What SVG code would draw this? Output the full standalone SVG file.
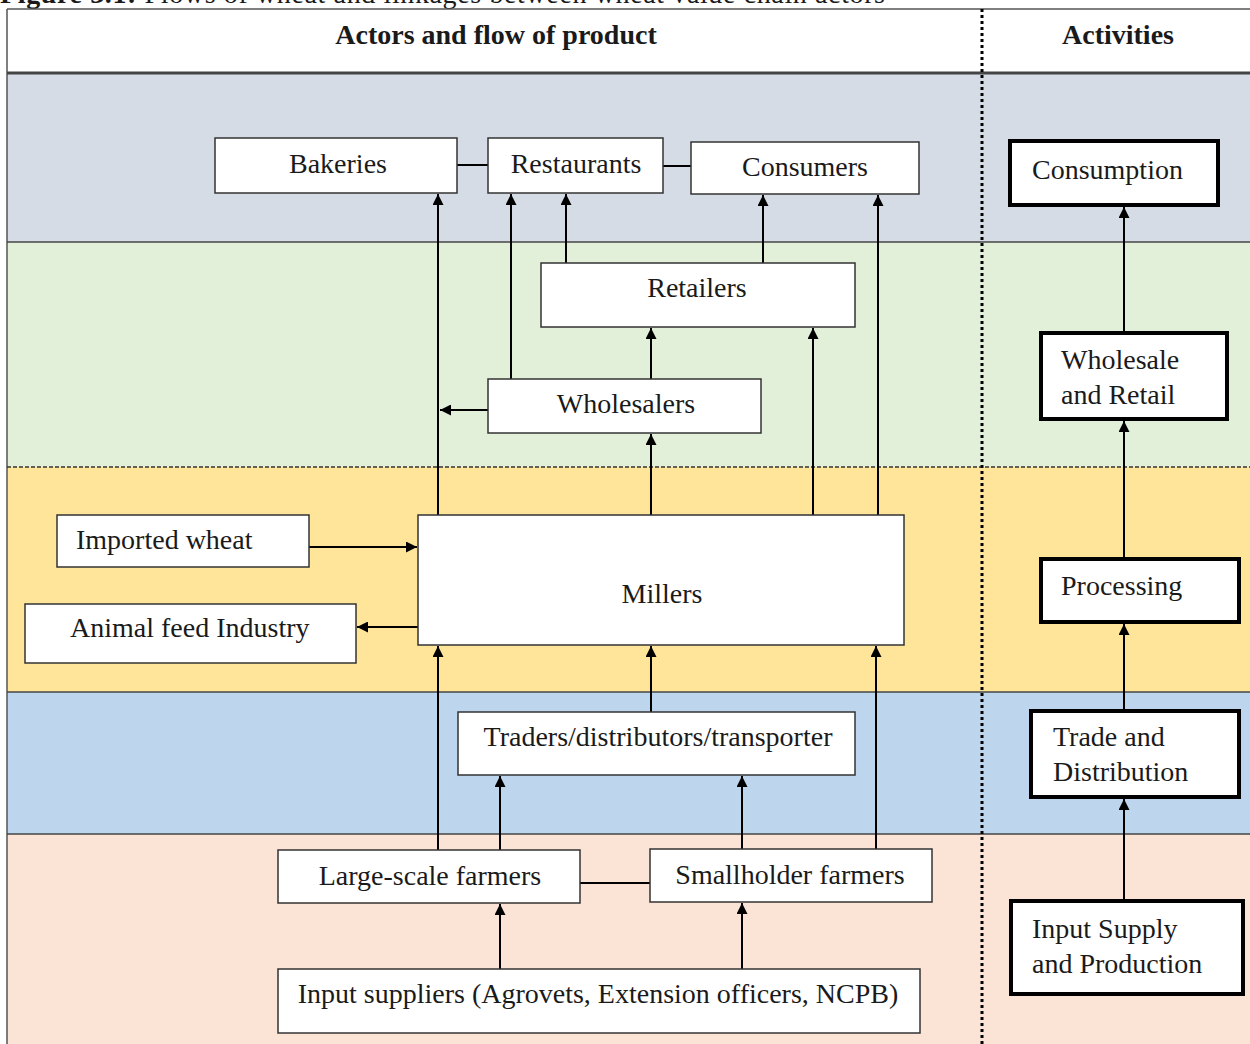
<svg xmlns="http://www.w3.org/2000/svg" width="1250" height="1044" viewBox="0 0 1250 1044">
<defs>
<marker id="ah" viewBox="0 0 10 10" refX="10" refY="5" markerWidth="12" markerHeight="11" markerUnits="userSpaceOnUse" orient="auto">
<path d="M0,0 L10,5 L0,10 z" fill="#000"/>
</marker>
<style>
.t{font-family:"Liberation Serif","Times New Roman",serif;font-size:28px;fill:#1a1a1a}
.hd{font-family:"Liberation Serif","Times New Roman",serif;font-size:28px;font-weight:bold;fill:#1a1a1a}
.box{fill:#fff;stroke:#333;stroke-width:1.5}
.abox{fill:#fff;stroke:#000;stroke-width:4}
.c{fill:none;stroke:#000;stroke-width:2}
.a{fill:none;stroke:#000;stroke-width:2;marker-end:url(#ah)}
.band{stroke:none}
</style>
</defs>
<rect width="1250" height="1044" fill="#fff"/>
<text x="0" y="3" class="t" font-size="26" textLength="885"><tspan font-weight="bold">Figure 3.1:</tspan> Flows of wheat and linkages between wheat value chain actors</text>
<g id="bands">
<rect class="band" x="7" y="73" width="1243" height="169" fill="#d6dce5"/>
<rect class="band" x="7" y="242" width="1243" height="225" fill="#e2efd9"/>
<rect class="band" x="7" y="467" width="1243" height="225" fill="#ffe59a"/>
<rect class="band" x="7" y="692" width="1243" height="142" fill="#bdd6ee"/>
<rect class="band" x="7" y="834" width="1243" height="210" fill="#fbe4d5"/>
<rect x="7" y="9" width="1243" height="64" fill="#fff"/>
<line x1="7" y1="9" x2="1250" y2="9" stroke="#555" stroke-width="1.5"/>
<line x1="7" y1="9" x2="7" y2="1044" stroke="#555" stroke-width="1.5"/>
<line x1="7" y1="73" x2="1250" y2="73" stroke="#444" stroke-width="3"/>
<line x1="7" y1="242" x2="1250" y2="242" stroke="#444" stroke-width="1.5"/>
<line x1="7" y1="467" x2="1250" y2="467" stroke="#333" stroke-width="1.5" stroke-dasharray="4,2"/>
<line x1="7" y1="692" x2="1250" y2="692" stroke="#444" stroke-width="1.5"/>
<line x1="7" y1="834" x2="1250" y2="834" stroke="#444" stroke-width="1.5"/>
<line x1="982" y1="9" x2="982" y2="1044" stroke="#000" stroke-width="3" stroke-dasharray="3,3"/>
<text x="496" y="44" class="hd" text-anchor="middle">Actors and flow of product</text>
<text x="1118" y="44" class="hd" text-anchor="middle">Activities</text>
</g>
<g id="connectors">
<line class="c" x1="457" y1="165" x2="488" y2="165"/>
<line class="c" x1="663" y1="166" x2="691" y2="166"/>
<line class="c" x1="580" y1="883" x2="650" y2="883"/>
<line class="a" x1="438" y1="850" x2="438" y2="646"/>
<line class="a" x1="438" y1="515" x2="438" y2="194"/>
<line class="a" x1="488" y1="410" x2="440" y2="410"/>
<line class="a" x1="500" y1="850" x2="500" y2="776"/>
<line class="a" x1="742" y1="849" x2="742" y2="776"/>
<line class="a" x1="876" y1="849" x2="876" y2="646"/>
<line class="a" x1="651" y1="712" x2="651" y2="646"/>
<line class="a" x1="651" y1="515" x2="651" y2="434"/>
<line class="a" x1="651" y1="379" x2="651" y2="328"/>
<line class="a" x1="813" y1="515" x2="813" y2="328"/>
<line class="a" x1="878" y1="515" x2="878" y2="195"/>
<line class="a" x1="511" y1="379" x2="511" y2="194"/>
<line class="a" x1="566" y1="263" x2="566" y2="194"/>
<line class="a" x1="763" y1="263" x2="763" y2="195"/>
<line class="a" x1="309" y1="547" x2="417" y2="547"/>
<line class="a" x1="418" y1="627" x2="357" y2="627"/>
<line class="a" x1="500" y1="969" x2="500" y2="904"/>
<line class="a" x1="742" y1="969" x2="742" y2="903"/>
<line class="a" x1="1124" y1="901" x2="1124" y2="799"/>
<line class="a" x1="1124" y1="711" x2="1124" y2="624"/>
<line class="a" x1="1124" y1="559" x2="1124" y2="421"/>
<line class="a" x1="1124" y1="332" x2="1124" y2="207"/>
</g>
<g id="bakeries"><rect class="box" x="215" y="138" width="242" height="55"/><text class="t" x="338" y="173" text-anchor="middle">Bakeries</text></g>
<g id="restaurants"><rect class="box" x="488" y="138" width="175" height="55"/><text class="t" x="576" y="173" text-anchor="middle">Restaurants</text></g>
<g id="consumers"><rect class="box" x="691" y="142" width="228" height="52"/><text class="t" x="805" y="176" text-anchor="middle">Consumers</text></g>
<g id="retailers"><rect class="box" x="541" y="263" width="314" height="64"/><text class="t" x="697" y="297" text-anchor="middle">Retailers</text></g>
<g id="wholesalers"><rect class="box" x="488" y="379" width="273" height="54"/><text class="t" x="626" y="413" text-anchor="middle">Wholesalers</text></g>
<g id="millers"><rect class="box" x="418" y="515" width="486" height="130"/><text class="t" x="662" y="603" text-anchor="middle">Millers</text></g>
<g id="imported-wheat"><rect class="box" x="57" y="515" width="252" height="52"/><text class="t" x="76" y="549">Imported wheat</text></g>
<g id="animal-feed"><rect class="box" x="25" y="604" width="331" height="59"/><text class="t" x="70" y="637">Animal feed Industry</text></g>
<g id="traders"><rect class="box" x="458" y="712" width="397" height="63"/><text class="t" x="658" y="746" text-anchor="middle">Traders/distributors/transporter</text></g>
<g id="large-scale"><rect class="box" x="278" y="850" width="302" height="53"/><text class="t" x="430" y="885" text-anchor="middle">Large-scale farmers</text></g>
<g id="smallholder"><rect class="box" x="650" y="849" width="282" height="53"/><text class="t" x="790" y="884" text-anchor="middle">Smallholder farmers</text></g>
<g id="input-suppliers"><rect class="box" x="278" y="969" width="642" height="64"/><text class="t" x="598" y="1003" text-anchor="middle">Input suppliers (Agrovets, Extension officers, NCPB)</text></g>
<g id="consumption"><rect class="abox" x="1010" y="141" width="208" height="64"/><text class="t" x="1032" y="179">Consumption</text></g>
<g id="wholesale-retail"><rect class="abox" x="1041" y="333" width="186" height="86"/><text class="t" x="1061" y="369">Wholesale</text><text class="t" x="1061" y="404">and Retail</text></g>
<g id="processing"><rect class="abox" x="1041" y="559" width="198" height="63"/><text class="t" x="1061" y="595">Processing</text></g>
<g id="trade-distribution"><rect class="abox" x="1031" y="711" width="208" height="86"/><text class="t" x="1053" y="746">Trade and</text><text class="t" x="1053" y="781">Distribution</text></g>
<g id="input-supply"><rect class="abox" x="1011" y="901" width="232" height="93"/><text class="t" x="1032" y="938">Input Supply</text><text class="t" x="1032" y="973">and Production</text></g>
</svg>
